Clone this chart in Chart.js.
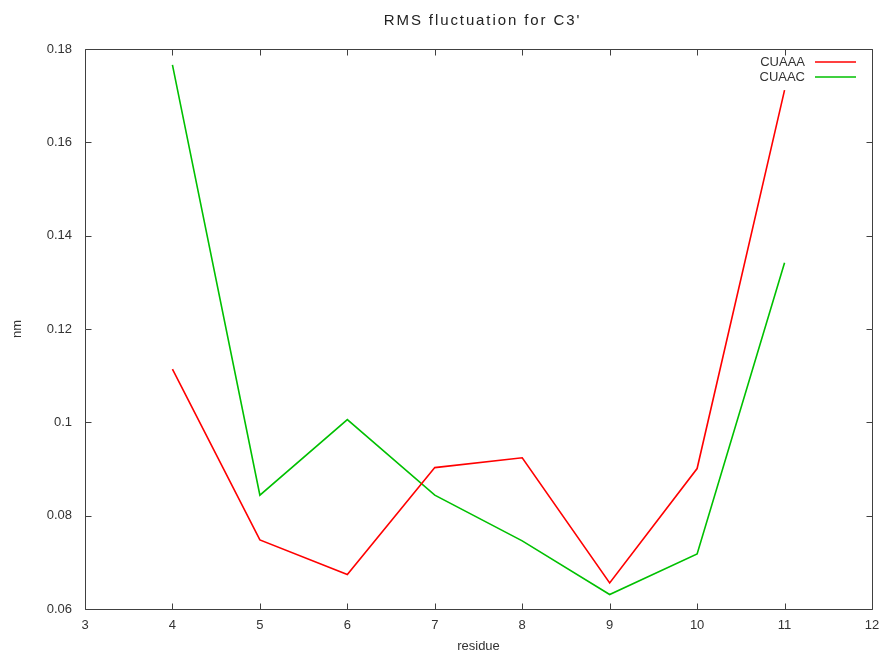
<!DOCTYPE html>
<html>
<head>
<meta charset="utf-8">
<title>RMS fluctuation for C3'</title>
<script src="https://cdn.jsdelivr.net/npm/chart.js@4.4.0/dist/chart.umd.min.js"></script>
<style>
    html, body { margin: 0; padding: 0; background: white; }
    #box { width: 880px; height: 655px; }
</style>
</head>
<body>
<div id="box"><canvas id="rmsChart"></canvas></div>
<script>
// dados
const residuos = [4, 5, 6, 7, 8, 9, 10, 11];
const cuaaa = [0.1114, 0.0748, 0.0674, 0.0903, 0.0924, 0.0656, 0.0901, 0.1712];
const cuaac = [0.1766, 0.0844, 0.1006, 0.0844, 0.0746, 0.0631, 0.0718, 0.1342];
const nomesSeries = ['CUAAA', 'CUAAC'];
const coresSeries = ['#ff0000', '#00c000'];
const titulo = "RMS fluctuation for C3'";

const corTexto = '#333333';
const corBorda = '#404040';
const fonte = 'Liberation Sans, Arial, sans-serif';

function pontos(valores) {
    return residuos.map((r, i) => ({ x: r, y: valores[i] }));
}

// título, borda e marcas de escala para dentro, estilo gnuplot
const bordaGnuplot = {
    id: 'bordaGnuplot',
    afterDatasetsDraw(chart) {
        const { ctx, chartArea: a, scales } = chart;
        const L = Math.round(a.left) + 0.5, R = Math.round(a.right) + 0.5;
        const T = Math.round(a.top) + 0.5, B = Math.round(a.bottom) + 0.5;
        const tam = 6;
        ctx.save();
        ctx.strokeStyle = corBorda;
        ctx.lineWidth = 1;
        ctx.beginPath();
        ctx.rect(L, T, R - L, B - T);
        scales.x.ticks.forEach(t => {
            const px = Math.round(scales.x.getPixelForValue(t.value)) + 0.5;
            ctx.moveTo(px, B); ctx.lineTo(px, B - tam);
            ctx.moveTo(px, T); ctx.lineTo(px, T + tam);
        });
        scales.y.ticks.forEach(t => {
            const py = Math.round(scales.y.getPixelForValue(t.value)) + 0.5;
            ctx.moveTo(L, py); ctx.lineTo(L + tam, py);
            ctx.moveTo(R, py); ctx.lineTo(R - tam, py);
        });
        ctx.stroke();

        // legenda dentro do gráfico, canto superior direito
        ctx.font = '13px ' + fonte;
        ctx.textAlign = 'right';
        ctx.textBaseline = 'middle';
        nomesSeries.forEach((nome, i) => {
            const y = 62 + i * 15;
            ctx.fillStyle = corTexto;
            ctx.fillText(nome, a.right - 67, y);
            ctx.strokeStyle = coresSeries[i];
            ctx.lineWidth = 1.6;
            ctx.beginPath();
            ctx.moveTo(a.right - 57, y);
            ctx.lineTo(a.right - 16, y);
            ctx.stroke();
        });

        // título centrado sobre a área do gráfico (letras mais espaçadas)
        ctx.font = '15px ' + fonte;
        ctx.fillStyle = '#222222';
        ctx.textAlign = 'center';
        ctx.letterSpacing = '1.9px';
        ctx.fillText(titulo, (a.left + a.right) / 2 + 4, 21);
        ctx.restore();
    }
};

const config = {
    type: 'line',
    data: {
        datasets: [
            {
                label: nomesSeries[0],
                data: pontos(cuaaa),
                borderColor: coresSeries[0],
                borderWidth: 1.6,
                pointRadius: 0,
                fill: false
            },
            {
                label: nomesSeries[1],
                data: pontos(cuaac),
                borderColor: coresSeries[1],
                borderWidth: 1.6,
                pointRadius: 0,
                fill: false
            }
        ]
    },
    options: {
        responsive: true,
        maintainAspectRatio: false,
        animation: false,
        layout: { padding: { left: 0, right: 0, top: 49, bottom: 0 } },
        plugins: {
            legend: { display: false },
            tooltip: { enabled: false },
            title: { display: false }
        },
        scales: {
            x: {
                type: 'linear',
                min: 3,
                max: 12,
                border: { display: false },
                grid: { display: false, drawTicks: false },
                ticks: {
                    stepSize: 1,
                    color: corTexto,
                    padding: 9,
                    maxRotation: 0,
                    font: { family: fonte, size: 13 }
                },
                title: {
                    display: true,
                    text: 'residue',
                    color: corTexto,
                    font: { family: fonte, size: 13 },
                    padding: { top: 0, bottom: 1 }
                },
                afterFit(scale) {
                    scale.height = 46;
                    scale.paddingRight = 8;   // borda direita em x = 872
                }
            },
            y: {
                type: 'linear',
                min: 0.06,
                max: 0.18,
                border: { display: false },
                grid: { display: false, drawTicks: false },
                ticks: {
                    stepSize: 0.02,
                    color: corTexto,
                    padding: 13,
                    font: { family: fonte, size: 13 },
                    callback: v => String(Number(v.toFixed(2)))
                },
                title: {
                    display: true,
                    text: 'nm',
                    color: corTexto,
                    font: { family: fonte, size: 13 },
                    padding: { top: 10, bottom: 0 }
                },
                afterFit(scale) { scale.width = 85; }
            }
        }
    },
    plugins: [bordaGnuplot]
};

document.addEventListener('DOMContentLoaded', function() {
    const ctx = document.getElementById('rmsChart').getContext('2d');
    new Chart(ctx, config);
});
</script>
</body>
</html>
